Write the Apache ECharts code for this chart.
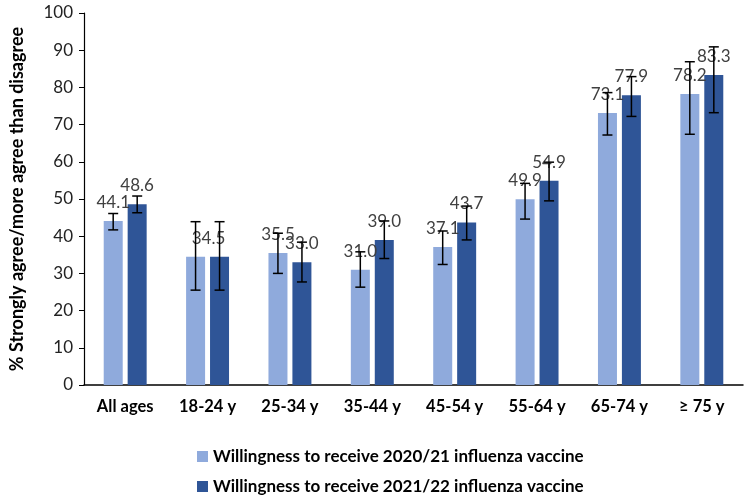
<!DOCTYPE html>
<html>
<head>
<meta charset="utf-8">
<script src="https://cdn.jsdelivr.net/npm/echarts@6/dist/echarts.min.js"></script>
<style>
  html, body { margin: 0; padding: 0; background: #fff; }
  #chart { width: 753px; height: 502px; }
</style>
</head>
<body>
<div id="chart"></div>
<script>
  const categories = ['All ages', '18-24 y', '25-34 y', '35-44 y', '45-54 y', '55-64 y', '65-74 y', '≥ 75 y']
  const vals2021 = [44.1, 34.5, 35.5, 31.0, 37.1, 49.9, 73.1, 78.2]
  const vals2122 = [48.6, 34.5, 33.0, 39.0, 43.7, 54.9, 77.9, 83.3]
  // confidence intervals
  const low2021 = [41.7, 25.5, 30.0, 26.3, 32.4, 44.6, 67.2, 67.4]
  const high2021 = [46.1, 43.9, 40.8, 35.8, 41.4, 54.2, 78.6, 86.9]
  const low2122 = [46.3, 25.5, 27.7, 34.0, 39.0, 49.5, 72.2, 73.2]
  const high2122 = [50.8, 43.9, 38.4, 44.1, 48.1, 59.9, 82.9, 90.9]
  const yTicks = [0, 10, 20, 30, 40, 50, 60, 70, 80, 90, 100]

  const name1 = 'Willingness to receive 2020/21 influenza vaccine'
  const name2 = 'Willingness to receive 2021/22 influenza vaccine'
  const font = 'Lato, "Open Sans", sans-serif'

  const chart = echarts.init(document.getElementById('chart'))

  function errorBars(lows, highs, shift) {
    return {
      type: 'custom',
      silent: true,
      z: 10,
      data: lows.map((l, i) => [i, l, highs[i]]),
      renderItem: (params, api) => {
        const lo = api.coord([api.value(0), api.value(1)])
        const hi = api.coord([api.value(0), api.value(2)])
        const x = lo[0] + shift
        const cap = 5
        const style = { stroke: '#000', lineWidth: 1.5 }
        return {
          type: 'group',
          children: [
            { type: 'line', shape: { x1: x, y1: lo[1], x2: x, y2: hi[1] }, style },
            { type: 'line', shape: { x1: x - cap, y1: lo[1], x2: x + cap, y2: lo[1] }, style },
            { type: 'line', shape: { x1: x - cap, y1: hi[1], x2: x + cap, y2: hi[1] }, style }
          ]
        }
      }
    }
  }

  const labelStyle = {
    show: true,
    position: 'top',
    distance: 10,
    color: '#404040',
    fontSize: 17,
    fontFamily: font,
    formatter: (p) => p.value.toFixed(1)
  }

  chart.setOption({
    animation: false,
    grid: { left: 82, right: 10, top: 13, bottom: 117 },
    legend: {
      orient: 'vertical',
      left: 192,
      top: 443,
      itemGap: 13,
      itemWidth: 11,
      itemHeight: 11,
      icon: 'rect',
      data: [name1, name2],
      textStyle: { fontFamily: font, fontSize: 17, fontWeight: 'bold', color: '#000' }
    },
    xAxis: {
      type: 'category',
      data: categories,
      axisLine: { lineStyle: { color: '#000', width: 1.5 } },
      axisTick: { show: false },
      axisLabel: { color: '#000', fontFamily: font, fontSize: 16.5, fontWeight: 'bold', margin: 13 }
    },
    yAxis: {
      type: 'value',
      min: yTicks[0],
      max: yTicks[yTicks.length - 1],
      interval: 10,
      name: '% Strongly agree/more agree than disagree',
      nameLocation: 'middle',
      nameGap: 58,
      nameTextStyle: { color: '#000', fontFamily: font, fontSize: 18, fontWeight: 'bold' },
      splitLine: { show: false },
      axisLine: { show: true, lineStyle: { color: '#000', width: 1.2 } },
      axisTick: { show: true, length: 5, lineStyle: { color: '#000' } },
      axisLabel: { color: '#222', fontFamily: font, fontSize: 17, margin: 11 }
    },
    series: [
      {
        name: name1,
        type: 'bar',
        barWidth: 19,
        barGap: '26%',
        itemStyle: { color: '#8FAADC' },
        label: labelStyle,
        data: vals2021.map((v, i) => i === 1 ? { value: v, label: { show: false } } : v)
      },
      {
        name: name2,
        type: 'bar',
        barWidth: 19,
        itemStyle: { color: '#2F5597' },
        label: labelStyle,
        data: vals2122.map((v, i) => i === 1 ? { value: v, label: { offset: [-11, 0] } } : v)
      },
      errorBars(low2021, high2021, -12),
      errorBars(low2122, high2122, 12)
    ]
  })
</script>
</body>
</html>
